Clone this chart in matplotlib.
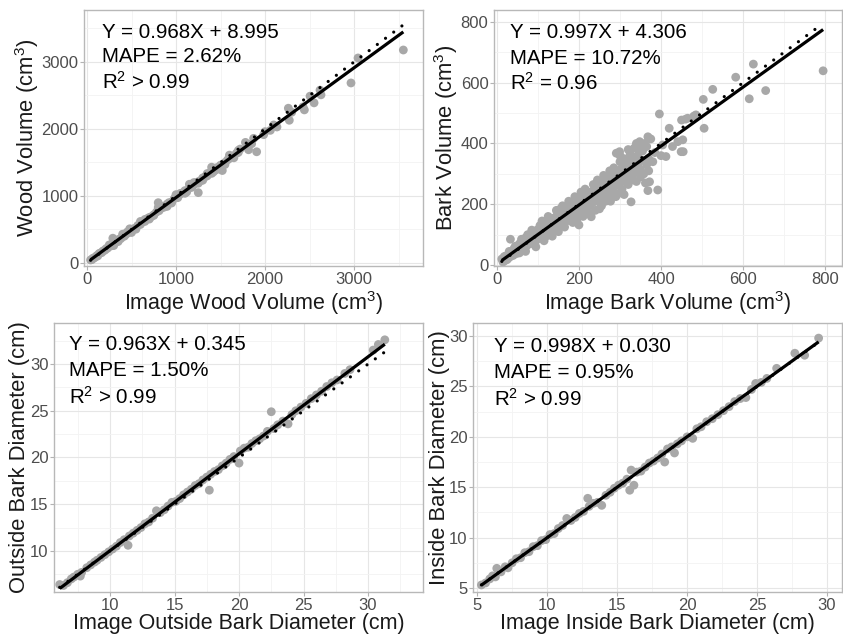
import matplotlib
matplotlib.use("Agg")
import matplotlib.pyplot as plt
import numpy as np

plt.rcParams['font.family'] = ['Liberation Sans', 'DejaVu Sans']
plt.rcParams['mathtext.fontset'] = 'custom'
plt.rcParams['mathtext.rm'] = 'Liberation Sans'
plt.rcParams['mathtext.it'] = 'Liberation Sans:italic'

# ---------------- data ----------------
wood_img = [40, 55, 65, 80, 95, 110, 120, 135, 150, 165, 180, 200, 215, 230, 250, 270, 290, 300, 320, 340,
            360, 380, 400, 420, 440, 460, 480, 500, 520, 545, 570, 600, 620, 650, 680, 700, 720, 750, 780, 800,
            810, 840, 870, 900, 920, 950, 980, 1000, 1020, 1050, 1080, 1100, 1120, 1150, 1180, 1200, 1220, 1250,
            1260, 1280, 1300, 1330, 1350, 1380, 1400, 1401, 1420, 1450, 1480, 1494, 1500, 1520, 1550, 1580, 1600,
            1620, 1650, 1680, 1700, 1720, 1780, 1815, 1850, 1872, 1906, 1985, 2000, 2060, 2097, 2134, 2262, 2273,
            2300, 2427, 2442, 2506, 2551, 2618, 2629, 2966, 3045, 3554,
            300, 400, 500, 600, 700, 800, 900, 1000, 1100, 1200, 1300, 1400, 1500, 1600, 1650, 1700, 1150, 1350,
            1450, 1550, 250, 350, 450, 550, 650, 750, 850, 950, 1050, 1250]
wood_ref = [45, 50, 70, 75, 90, 110, 105, 140, 150, 155, 180, 190, 215, 220, 250, 255, 370, 290, 315, 325,
            355, 365, 395, 400, 430, 450, 510, 480, 510, 520, 560, 575, 610, 620, 665, 680, 690, 720, 760, 900,
            780, 820, 835, 880, 900, 910, 960, 1000, 975, 1030, 1050, 1080, 1060, 1120, 1130, 1170, 1200, 1050,
            1220, 1230, 1270, 1290, 1300, 1340, 1380, 1338, 1360, 1420, 1430, 1405, 1460, 1380, 1500, 1540, 1560,
            1590, 1600, 1640, 1680, 1700, 1800, 1690, 1780, 1860, 1660, 1915, 1960, 1980, 2060, 2030, 2310, 2130,
            2250, 2330, 2285, 2490, 2390, 2580, 2510, 2687, 3060, 3179,
            260, 430, 455, 620, 655, 830, 845, 1020, 1040, 1200, 1235, 1430, 1425, 1610, 1570, 1650, 1175, 1335,
            1390, 1470, 270, 320, 460, 505, 650, 710, 845, 895, 1040, 1190]

bark_img = [12, 15, 18, 20, 22, 25, 28, 30, 33, 35, 38, 40, 42, 45, 48, 50, 52, 55, 58, 60, 62, 65, 68, 70, 72,
            75, 78, 80, 83, 85, 88, 90, 92, 95, 98, 100, 103, 105, 108, 110, 113, 115, 118, 120, 123, 125, 128,
            130, 133, 135, 138, 140, 143, 145, 148, 150, 153, 155, 158, 160, 163, 165, 168, 170, 173, 175, 178,
            180, 183, 185, 188, 190, 193, 195, 198, 200, 200, 203, 205, 208, 210, 213, 215, 218, 220, 223, 225,
            228, 230, 230, 233, 235, 238, 240, 243, 245, 248, 250, 253, 255, 258, 260, 263, 265, 268, 270, 273,
            275, 277, 278, 280, 283, 285, 288, 290, 291, 295, 298, 299, 300, 303, 305, 308, 310, 313, 315, 318,
            320, 323, 325, 327, 328, 330, 333, 335, 338, 340, 343, 345, 348, 348, 350, 355, 360, 362, 365, 368,
            368, 370, 372, 375, 380, 385, 392, 396, 400, 404, 412, 420, 428, 441, 449, 450, 453, 454, 460, 465,
            480, 485, 503, 505, 526, 582, 615, 625, 655, 795,
            60, 70, 85, 95, 110, 115, 125, 135, 145, 150, 160, 165, 175, 185, 190, 195, 205, 210, 215, 225, 235,
            240, 245, 255, 260, 265, 275, 280, 285, 295, 300, 305, 310, 320, 325, 330, 335, 340, 345, 350, 355,
            358, 365, 370, 310, 290, 250, 320, 340, 300, 30, 45, 55, 75, 90, 105, 120, 140, 155, 170]
bark_ref = [20, 10, 28, 15, 30, 18, 35, 25, 85, 30, 45, 32, 55, 40, 38, 60, 45, 70, 50, 65, 48, 80, 60, 90, 62,
            78, 95, 70, 88, 100, 75, 105, 85, 80, 115, 95, 120, 88, 110, 125, 100, 130, 105, 140, 115, 100, 145,
            120, 150, 118, 135, 155, 125, 160, 140, 130, 165, 150, 135, 175, 155, 145, 180, 160, 150, 185, 170,
            155, 190, 175, 165, 200, 180, 170, 205, 190, 132, 175, 215, 195, 185, 220, 200, 190, 230, 210, 195,
            240, 215, 159, 205, 245, 225, 210, 255, 230, 215, 260, 240, 225, 270, 250, 230, 280, 255, 240, 285,
            260, 210, 245, 300, 270, 255, 305, 280, 368, 265, 310, 373, 290, 275, 320, 300, 285, 330, 305, 290,
            340, 315, 300, 208, 345, 320, 300, 355, 330, 310, 360, 335, 380, 406, 315, 345, 400, 270, 330, 245,
            422, 350, 274, 415, 340, 370, 247, 497, 360, 395, 357, 450, 390, 406, 373, 477, 412, 373, 480, 483,
            490, 494, 545, 450, 578, 618, 547, 661, 574, 639,
            85, 45, 115, 60, 145, 80, 160, 95, 180, 110, 195, 125, 210, 140, 225, 150, 240, 160, 250, 170, 265,
            180, 280, 195, 295, 210, 310, 225, 320, 235, 340, 250, 350, 265, 365, 280, 385, 275, 395, 290, 375,
            300, 390, 310, 232, 225, 185, 380, 400, 360, 45, 62, 40, 100, 70, 130, 95, 115, 185, 145]

ob_img = [6.1, 6.4, 6.7, 7.0, 7.2, 7.5, 7.7, 7.8, 8.2, 8.5, 8.8, 9.0, 9.3, 9.6, 9.9, 10.2, 10.5, 10.8, 11.1,
          11.4, 11.5, 11.8, 12.1, 12.4, 12.7, 13.0, 13.3, 13.6, 13.9, 14.2, 14.5, 14.8, 15.1, 15.4, 15.7, 16.0,
          16.3, 16.6, 16.9, 17.2, 17.5, 17.7, 17.8, 18.1, 18.4, 18.7, 19.0, 19.3, 19.6, 20.0, 20.1, 20.4, 20.7,
          21.0, 21.3, 21.6, 21.9, 22.2, 22.5, 22.7, 23.0, 23.4, 23.8, 24.1, 24.4, 24.8, 25.2, 25.6, 26.0, 26.4,
          26.8, 27.2, 27.6, 28.2, 28.6, 30.4, 30.8, 31.3]
ob_ref = [6.4, 6.3, 6.6, 7.0, 7.2, 7.5, 7.3, 7.7, 8.2, 8.5, 8.8, 9.0, 9.3, 9.6, 9.9, 10.2, 10.5, 10.9, 11.2,
          10.6, 11.6, 11.9, 12.2, 12.5, 12.9, 13.1, 13.5, 14.3, 14.1, 14.4, 14.8, 15.2, 15.3, 15.6, 16.0, 16.3,
          16.6, 17.0, 17.2, 17.6, 17.9, 16.5, 18.2, 18.5, 18.7, 19.1, 19.4, 19.8, 20.1, 19.4, 20.7, 21.0, 21.1,
          21.5, 21.8, 22.0, 22.3, 22.8, 24.9, 23.1, 23.5, 23.9, 23.6, 24.6, 25.0, 25.4, 25.8, 26.3, 26.7, 27.1,
          27.6, 28.0, 28.3, 29.0, 29.4, 31.5, 32.1, 32.6]

ib_img = [5.3, 5.6, 5.9, 6.1, 6.3, 6.4, 6.7, 7.0, 7.2, 7.5, 7.8, 8.1, 8.4, 8.7, 9.0, 9.3, 9.6, 9.9, 10.2, 10.5,
          10.8, 11.1, 11.4, 11.7, 12.0, 12.3, 12.6, 12.9, 13.0, 13.3, 13.6, 13.9, 14.2, 14.5, 14.8, 15.1, 15.4,
          15.7, 15.9, 16.0, 16.2, 16.4, 16.7, 17.0, 17.3, 17.6, 17.9, 18.2, 18.4, 18.6, 18.9, 19.1, 19.3, 19.6,
          20.0, 20.4, 20.7, 21.0, 21.4, 21.8, 22.2, 22.6, 23.0, 23.4, 23.8, 24.2, 24.6, 24.9, 25.3, 25.7, 26.4,
          27.7, 28.4, 29.4]
ib_ref = [5.3, 5.5, 5.9, 6.2, 6.1, 6.95, 6.6, 7.1, 7.0, 7.5, 7.9, 8.0, 8.5, 8.6, 9.1, 9.2, 9.7, 9.8, 10.3, 10.4,
          10.9, 11.2, 11.9, 11.7, 12.0, 12.4, 12.6, 13.9, 13.1, 13.4, 13.5, 13.2, 14.2, 14.5, 14.9, 15.2, 15.4,
          15.8, 14.7, 16.7, 15.2, 16.5, 16.6, 17.0, 17.4, 17.6, 17.9, 18.3, 17.5, 18.8, 19.0, 18.4, 19.3, 19.6,
          20.0, 19.85, 20.8, 21.0, 21.5, 21.8, 22.2, 22.6, 23.0, 23.5, 23.8, 23.9, 24.7, 25.3, 25.4, 25.8, 26.8,
          28.3, 28.1, 29.8]

# fitted solid lines (slope, intercept) as drawn
fit_wood = (0.968, 8.995)
fit_bark = (0.970, 3.5)
fit_ob = (1.038, -0.36)
fit_ib = (1.002, -0.03)

labels_wood = ["Y = 0.968X + 8.995", "MAPE = 2.62%", "R$^2$ > 0.99"]
labels_bark = ["Y = 0.997X + 4.306", "MAPE = 10.72%", "R$^2$ = 0.96"]
labels_ob = ["Y = 0.963X + 0.345", "MAPE = 1.50%", "R$^2$ > 0.99"]
labels_ib = ["Y = 0.998X + 0.030", "MAPE = 0.95%", "R$^2$ > 0.99"]

W, H = 843, 634
fig = plt.figure(figsize=(W / 100, H / 100), dpi=100)
fig.patch.set_facecolor('white')


def make_ax(l, r, t, b):
    return fig.add_axes([l / W, 1 - b / H, (r - l) / W, (b - t) / H])


panels = [
    dict(box=(84, 423, 10, 266), x=wood_img, y=wood_ref, fit=fit_wood, txt=labels_wood,
         xlim=(-34, 3775), ylim=(-45, 3776), maj=[0, 1000, 2000, 3000], minr=[500, 1500, 2500, 3500],
         xlabel="Image Wood Volume (cm$^3$)", ylabel="Wood Volume (cm$^3$)",
         ylab_x=27, xlab_y=303, txt_x=102, txt_y=[32, 57, 82]),
    dict(box=(494, 842, 10, 266), x=bark_img, y=bark_ref, fit=fit_bark, txt=labels_bark,
         xlim=(-7, 841), ylim=(-3, 839), maj=[0, 200, 400, 600, 800], minr=[100, 300, 500, 700],
         xlabel="Image Bark Volume (cm$^3$)", ylabel="Bark Volume (cm$^3$)",
         ylab_x=446, xlab_y=303, txt_x=510, txt_y=[33, 58, 83]),
    dict(box=(54, 423, 323, 592), x=ob_img, y=ob_ref, fit=fit_ob, txt=labels_ob,
         xlim=(5.66, 34.26), ylim=(5.6, 34.4), maj=[10, 15, 20, 25, 30], minr=[7.5, 12.5, 17.5, 22.5, 27.5, 32.5],
         xlabel="Image Outside Bark Diameter (cm)", ylabel="Outside Bark Diameter (cm)",
         ylab_x=20, xlab_y=623, txt_x=69, txt_y=[345, 371, 397]),
    dict(box=(473, 842, 323, 592), x=ib_img, y=ib_ref, fit=fit_ib, txt=labels_ib,
         xlim=(4.7, 31.07), ylim=(4.6, 31.3), maj=[5, 10, 15, 20, 25, 30], minr=[7.5, 12.5, 17.5, 22.5, 27.5],
         xlabel="Image Inside Bark Diameter (cm)", ylabel="Inside Bark Diameter (cm)",
         ylab_x=440, xlab_y=623, txt_x=494, txt_y=[347, 373, 399]),
]

for p in panels:
    l, r, t, b = p['box']
    ax = make_ax(l, r, t, b)
    ax.set_facecolor('white')
    ax.set_xlim(*p['xlim'])
    ax.set_ylim(*p['ylim'])
    ax.set_xticks(p['maj'])
    ax.set_yticks(p['maj'])
    ax.set_xticks(p['minr'], minor=True)
    ax.set_yticks(p['minr'], minor=True)
    ax.grid(True, which='major', color='#E6E6E6', lw=0.8, zorder=0)
    ax.grid(True, which='minor', color='#F3F3F3', lw=0.6, zorder=0)
    ax.set_axisbelow(True)
    for s in ax.spines.values():
        s.set_color('#B8B8B8')
        s.set_linewidth(1.0)
    ax.tick_params(which='major', length=3, width=0.8, color='#B3B3B3', labelsize=12,
                   labelcolor='#4D4D4D', pad=1)
    ax.tick_params(which='minor', length=0)

    x = np.array(p['x'], float)
    y = np.array(p['y'], float)
    ax.scatter(x, y, s=40, color='#A8A8A8', edgecolors='none', zorder=2)
    xs = np.array([x.min(), x.max()])
    m, c = p['fit']
    ax.plot(xs, m * xs + c, color='black', lw=2.3, solid_capstyle='butt', zorder=3)
    ax.plot(xs, xs, color='black', lw=2.3, linestyle=(0, (0.01, 3.2)),
            dash_capstyle='round', zorder=3)

    # labels
    ax.set_xlabel(p['xlabel'], fontsize=15.5, color='#1A1A1A')
    ax.set_ylabel(p['ylabel'], fontsize=15.8, color='#1A1A1A')
    cx = ((l + r) / 2 - l) / (r - l)
    ax.xaxis.set_label_coords(cx, (b - p['xlab_y']) / (b - t))
    ax.xaxis.label.set_va('center')
    ax.yaxis.set_label_coords((p['ylab_x'] - l) / (r - l), 0.5)
    ax.yaxis.label.set_va('center')

    for line, ty in zip(p['txt'], p['txt_y']):
        fig.text(p['txt_x'] / W, 1 - ty / H, line, fontsize=14.8, color='black',
                 ha='left', va='center')

fig.savefig('out.png', dpi=100)
